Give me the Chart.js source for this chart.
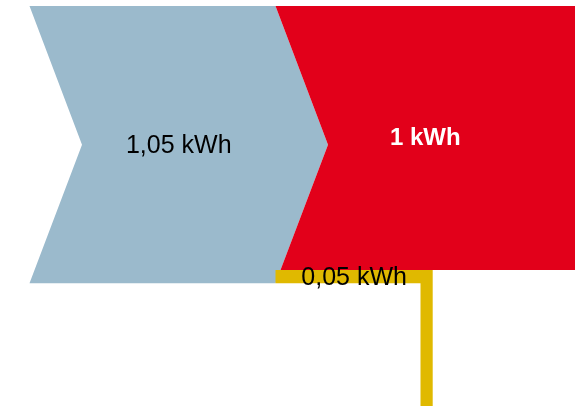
<!DOCTYPE html>
<html>
<head>
<meta charset="utf-8">
<script src="https://cdn.jsdelivr.net/npm/chart.js@4/dist/chart.umd.min.js"></script>
<style>
    html, body { margin: 0; padding: 0; background: #ffffff; }
    #wrap { width: 585px; height: 406px; }
</style>
</head>
<body>
<div id="wrap"><canvas id="flowChart" width="585" height="406"></canvas></div>
<script>
// energy flow: input -> output + loss (kWh)
const flowNames = ["input", "output", "loss"];
const flowValues = [1.05, 1, 0.05];
const flowLabels = ["1,05 kWh", "1 kWh", "0,05 kWh"];

// layout on the hidden x axis (pixels) and y axis (kWh)
const xStart = 29.5;
const xJoin = 275.5;
const xEnd = 575;
const arrowDepth = 52.5;
const lossRight = 432.7;
const lossWidth = 12.2;
const yTop = 1.073;
const yBottom = -0.465;

const inputValue = flowValues[0];
const outputValue = flowValues[1];
const lossValue = flowValues[2];
const midInput = inputValue / 2;

// where the lower arrow edge crosses the top of the loss band
const xCut = xJoin + arrowDepth * (lossValue / midInput);

const inputShape = [
    {x: xStart, y: inputValue},
    {x: xJoin, y: inputValue},
    {x: xJoin + arrowDepth, y: midInput},
    {x: xJoin, y: 0},
    {x: xStart, y: 0},
    {x: xStart + arrowDepth, y: midInput},
    {x: xStart, y: inputValue}
];

const outputShape = [
    {x: xJoin, y: inputValue},
    {x: xEnd, y: inputValue},
    {x: xEnd, y: inputValue - outputValue},
    {x: xCut, y: inputValue - outputValue},
    {x: xJoin + arrowDepth, y: midInput},
    {x: xJoin, y: inputValue}
];

const lossShape = [
    {x: xJoin, y: lossValue},
    {x: lossRight, y: lossValue},
    {x: lossRight, y: yBottom},
    {x: lossRight - lossWidth, y: yBottom},
    {x: lossRight - lossWidth, y: 0},
    {x: xJoin, y: 0},
    {x: xJoin, y: lossValue}
];

function shapeDataset(name, points, color, order)
{
    return {
        label: name,
        data: points,
        backgroundColor: color,
        borderColor: "rgba(0,0,0,0)",
        borderWidth: 0,
        pointRadius: 0,
        fill: "shape",
        tension: 0,
        order: order
    };
}

const flowText = {
    id: "flowText",
    afterDatasetsDraw(chart)
    {
        const ctx = chart.ctx;
        const xs = chart.scales.x;
        const ys = chart.scales.y;
        ctx.save();
        ctx.textAlign = "center";
        ctx.textBaseline = "middle";

        ctx.fillStyle = "#000000";
        ctx.font = "25px 'Liberation Sans', Arial, sans-serif";
        ctx.fillText(flowLabels[0], xs.getPixelForValue((xStart + arrowDepth + xJoin) / 2), ys.getPixelForValue(midInput) + 1);

        ctx.fillStyle = "#ffffff";
        ctx.font = "bold 24px 'Liberation Sans', Arial, sans-serif";
        ctx.fillText(flowLabels[1], xs.getPixelForValue((xJoin + xEnd) / 2), ys.getPixelForValue(lossValue + outputValue / 2));

        ctx.fillStyle = "#000000";
        ctx.font = "25px 'Liberation Sans', Arial, sans-serif";
        ctx.fillText(flowLabels[2], xs.getPixelForValue((xJoin + lossRight) / 2), ys.getPixelForValue(lossValue / 2) + 1.5);
        ctx.restore();
    }
};

const ctx = document.getElementById("flowChart").getContext("2d");

new Chart(ctx, {
    type: "line",
    data: {
        datasets: [
            shapeDataset(flowNames[2], lossShape, "#E0B900", 1),
            shapeDataset(flowNames[1], outputShape, "#E2001A", 2),
            shapeDataset(flowNames[0], inputShape, "#9BBACC", 3)
        ]
    },
    options: {
        responsive: false,
        animation: false,
        layout: { padding: 0 },
        scales: {
            x: { type: "linear", min: 0, max: 585, display: false },
            y: { type: "linear", min: yBottom, max: yTop, display: false }
        },
        plugins: {
            legend: { display: false },
            tooltip: { enabled: false },
            title: { display: false }
        }
    },
    plugins: [flowText]
});
</script>
</body>
</html>
